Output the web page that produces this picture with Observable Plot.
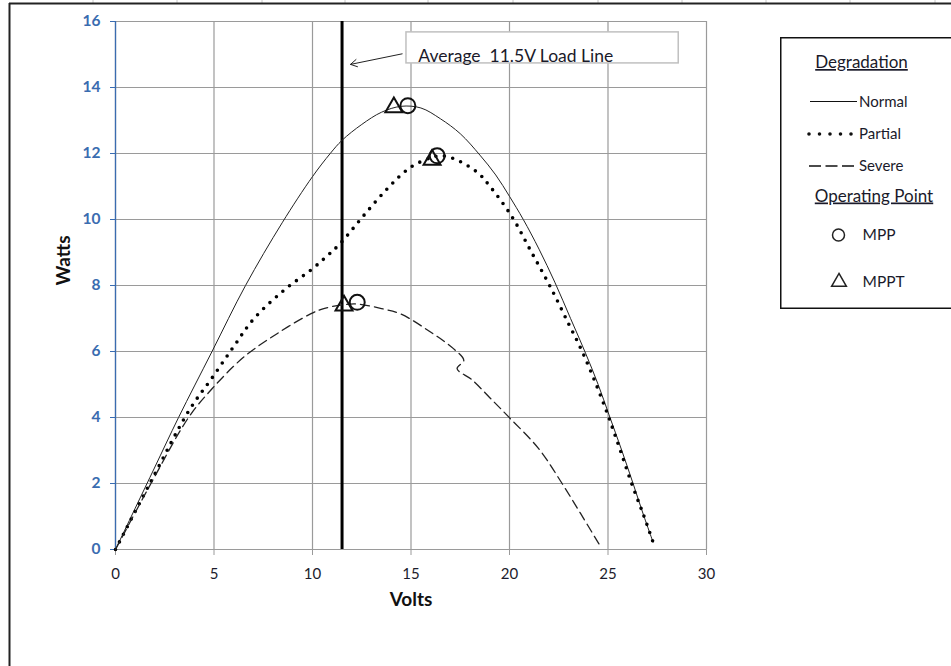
<!DOCTYPE html>
<html><head><meta charset="utf-8">
<script src="https://cdn.jsdelivr.net/npm/d3@7"></script>
<script src="https://cdn.jsdelivr.net/npm/@observablehq/plot@0.6"></script>
<style>
body{margin:0;background:#fff;overflow:hidden}
#wrap{position:relative;width:951px;height:666px;overflow:hidden;background:#fff}
#wrap svg{position:absolute;left:0;top:0}
</style></head><body><div id="wrap"></div>
<script>
// ---- data (Volts, Watts) ----
const normalV = [0, 1, 2, 3.2, 4.9, 6.6, 8.46, 10, 10.9, 11.5, 12.5, 13.5, 14.5, 15.5, 16.5, 17.5, 18.5, 19.3, 20, 20.7, 21.5, 22.3, 23.1, 23.86, 24.5, 25.04, 25.7, 26.3, 26.8, 27.29];
const normalW = [0, 1.25, 2.5, 4.0, 6.0, 8.0, 9.9, 11.3, 12.0, 12.4, 12.88, 13.25, 13.43, 13.38, 13.05, 12.6, 11.95, 11.35, 10.7, 10.0, 9.1, 8.1, 7.0, 5.95, 5.0, 4.1, 3.0, 1.95, 1.05, 0.22];
const partialV = [0, 1.78, 3.72, 4.9, 6.0, 7.02, 8.54, 9.98, 10.75, 11.42, 12.6, 13.87, 14.97, 16.0, 16.5, 17.18, 18.36, 19.04, 20.14, 21.07, 22.08, 23.0, 23.69, 24.4, 25.04, 25.6, 26.2, 26.8, 27.29];
const partialW = [0, 2.04, 4.2, 5.2, 6.15, 6.99, 7.85, 8.5, 8.9, 9.28, 10.12, 10.98, 11.58, 11.87, 11.93, 11.84, 11.43, 10.98, 10.07, 9.06, 7.95, 6.84, 6.0, 5.0, 4.0, 3.05, 2.0, 1.05, 0.22];
const severeV = [0, 1.8, 3.72, 4.9, 6.51, 8.2, 9.9, 10.57, 11.6, 12.27, 13.5, 14.47, 15.99, 17.17, 17.68, 17.34, 18.1, 19.0, 19.97, 21.49, 22.67, 23.6, 24.54];
const severeW = [0, 2.0, 4.01, 4.87, 5.83, 6.54, 7.14, 7.3, 7.42, 7.44, 7.3, 7.14, 6.59, 6.08, 5.73, 5.48, 5.14, 4.6, 4.01, 3.05, 2.0, 1.1, 0.17];
const mppV = [14.84, 16.33, 12.27];
const mppW = [13.45, 11.93, 7.49];
const mpptV = [14.13, 16.07, 11.6];
const mpptW = [13.4, 11.81, 7.39];
const loadLineV = [11.5];
const xTicks = [0, 5, 10, 15, 20, 25, 30];
const yTicks = [0, 2, 4, 6, 8, 10, 12, 14, 16];
// annotation (in data units)
const annoText = ["Average  11.5V Load Line"];
const annoBoxV = [14.77, 28.59];
const annoBoxW = [14.73, 15.67];
const annoTextPos = [15.37, 14.93];
const arrowFrom = [14.55, 15.02];
const arrowTo = [11.93, 14.7];

const toRows = (V, W) => V.map((v, i) => ({v, w: W[i]}));
const normal = toRows(normalV, normalW);
const partial = toRows(partialV, partialW);
const severe = toRows(severeV, severeW);
const mpp = toRows(mppV, mppW);
const mppt = toRows(mpptV, mpptW);

const blue = "#3a6cb0";
const grid = "#9a9a9a";
const font = "Lato, 'Open Sans', sans-serif";

const chart = Plot.plot({
  width: 951, height: 666,
  marginLeft: 115, marginRight: 245, marginTop: 21, marginBottom: 117,
  style: {fontFamily: font, background: "transparent", color: "#111"},
  x: {domain: [0, 30]},
  y: {domain: [0, 16]},
  marks: [
    Plot.gridX(xTicks, {stroke: grid, strokeOpacity: 1, strokeWidth: 1.2}),
    Plot.gridY(yTicks, {stroke: grid, strokeOpacity: 1, strokeWidth: 1.2}),
    Plot.axisX(xTicks, {tickSize: 6, tickPadding: 13, stroke: grid, fill: "#1c1c2c", fontSize: 15, label: null}),
    Plot.axisY(yTicks, {tickSize: 5, tickPadding: 10, stroke: blue, fill: blue, fontSize: 15.5, fontWeight: "bold", label: null}),
    Plot.ruleX([0], {stroke: blue, strokeWidth: 1.3}),
    Plot.text(["Watts"], {frameAnchor: "left", dx: -52, rotate: -90, fontSize: 19, fontWeight: "bold", fill: "#111"}),
    Plot.text(["Volts"], {frameAnchor: "bottom", dy: 56, fontSize: 19, fontWeight: "bold", fill: "#111"}),
    Plot.ruleX(loadLineV, {y1: 0, y2: 16, stroke: "#000", strokeWidth: 3}),
    Plot.line(normal, {x: "v", y: "w", stroke: "#222", strokeWidth: 1, curve: "catmull-rom"}),
    Plot.line(partial, {x: "v", y: "w", stroke: "#000", strokeWidth: 3.6, strokeDasharray: "0 8.6", strokeLinecap: "round", curve: "catmull-rom"}),
    Plot.line(severe, {x: "v", y: "w", stroke: "#222", strokeWidth: 1.3, strokeDasharray: "9 5", curve: "catmull-rom"}),
    Plot.dot(mpp, {x: "v", y: "w", r: 7.5, stroke: "#111", strokeWidth: 2, fill: "none"}),
    Plot.dot(mppt, {x: "v", y: "w", symbol: "triangle", r: 6.3, stroke: "#111", strokeWidth: 2, fill: "none"}),
    Plot.rect([0], {x1: () => annoBoxV[0], x2: () => annoBoxV[1], y1: () => annoBoxW[0], y2: () => annoBoxW[1], fill: "#fff", stroke: "#c0c0c0", strokeWidth: 1.5}),
    Plot.text(annoText, {x: () => annoTextPos[0], y: () => annoTextPos[1], text: d => d, textAnchor: "start", fontSize: 17.5, fill: "#1a1a2a"}),
    Plot.arrow([0], {x1: () => arrowFrom[0], y1: () => arrowFrom[1], x2: () => arrowTo[0], y2: () => arrowTo[1], stroke: "#222", strokeWidth: 1, headLength: 11})
  ]
});
document.getElementById("wrap").appendChild(chart);

// frame + spreadsheet cell marks
const frame = d3.select("#wrap").append("svg").attr("width", 951).attr("height", 666).style("pointer-events", "none");
for (const x of [93, 177, 262, 345, 428, 513, 598, 682, 766, 850, 935]) {
  frame.append("line").attr("x1", x).attr("x2", x).attr("y1", 0).attr("y2", 3).attr("stroke", "#c8c8c8");
}
frame.append("line").attr("x1", 9).attr("x2", 951).attr("y1", 3.5).attr("y2", 3.5).attr("stroke", "#222").attr("stroke-width", 2);
frame.append("line").attr("x1", 9.5).attr("x2", 9.5).attr("y1", 3).attr("y2", 666).attr("stroke", "#222").attr("stroke-width", 2);

// legend
const lg = d3.select("#wrap").append("svg").attr("width", 171).attr("height", 275)
  .style("left", "780px").style("top", "37px")
  .style("font-family", font);
lg.append("rect").attr("x", 0.75).attr("y", 0.75).attr("width", 220).attr("height", 270.5).attr("fill", "#fff").attr("stroke", "#111").attr("stroke-width", 1.5);
const headings = [["Degradation", 81.5, 31], ["Operating Point", 94, 164.5]];
for (const [t, x, y] of headings) {
  lg.append("text").attr("x", x).attr("y", y).attr("text-anchor", "middle").attr("font-size", 17)
    .attr("fill", "#1a1a2a").style("text-decoration", "underline").text(t);
}
const entries = [
  {label: "Normal", y: 64.5, dash: null, w: 1, cap: "butt", x1: 30, x2: 77},
  {label: "Partial", y: 97, dash: "0 10.5", w: 3.6, cap: "round", x1: 29, x2: 72},
  {label: "Severe", y: 129, dash: "12 4.5", w: 1.3, cap: "butt", x1: 29, x2: 77}
];
for (const e of entries) {
  const l = lg.append("line").attr("x1", e.x1).attr("x2", e.x2).attr("y1", e.y).attr("y2", e.y)
    .attr("stroke", "#111").attr("stroke-width", e.w).attr("stroke-linecap", e.cap);
  if (e.dash) l.attr("stroke-dasharray", e.dash);
  lg.append("text").attr("x", 79).attr("y", e.y).attr("dy", "0.35em").attr("font-size", 15).attr("fill", "#1a1a2a").text(e.label);
}
lg.append("circle").attr("cx", 58.5).attr("cy", 198).attr("r", 6).attr("fill", "none").attr("stroke", "#222").attr("stroke-width", 1.5);
lg.append("text").attr("x", 82.5).attr("y", 198).attr("dy", "0.35em").attr("font-size", 15.5).attr("fill", "#1a1a2a").text("MPP");
lg.append("path").attr("d", d3.symbol(d3.symbolTriangle, Math.PI * 30)()).attr("transform", "translate(59,245)")
  .attr("fill", "none").attr("stroke", "#222").attr("stroke-width", 1.5);
lg.append("text").attr("x", 82.5).attr("y", 245).attr("dy", "0.35em").attr("font-size", 15.5).attr("fill", "#1a1a2a").text("MPPT");
</script></body></html>
